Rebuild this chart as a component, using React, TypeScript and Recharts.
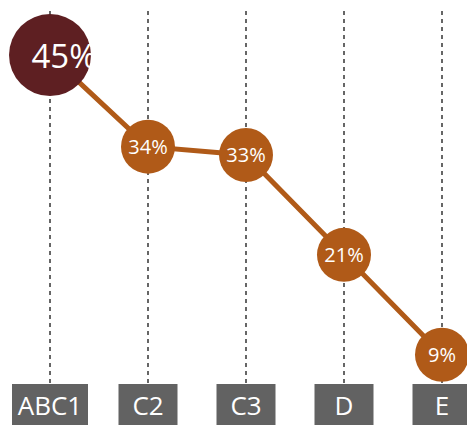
import { LineChart, Line, XAxis, YAxis, ReferenceLine } from "recharts";

const categories = ["ABC1", "C2", "C3", "D", "E"];
const shares = [45, 34, 33, 21, 9];

const data = categories.map((name, i) => ({ name, share: shares[i] }));

const FONT = "'Open Sans', sans-serif";

function Bubble(props: any) {
  const { cx, cy, index, value } = props;
  const big = index === 0;
  return (
    <g key={`dot-${index}`}>
      <circle cx={cx} cy={cy} r={big ? 41 : 27} fill={big ? "#5E1F22" : "#B05A18"} />
      <text
        x={big ? cx + 14 : cx}
        y={cy}
        textAnchor="middle"
        dominantBaseline="central"
        fill="#fff"
        fontSize={big ? 33 : 20}
        fontFamily={FONT}
      >
        {value}%
      </text>
    </g>
  );
}

function BoxTick(props: any) {
  const { x, y, payload } = props;
  const label = String(payload.value);
  const w = Math.max(59, label.length * 19);
  return (
    <g>
      <rect x={x - w / 2} y={y - 7} width={w} height={41} fill="#626262" />
      <text
        x={x}
        y={y + 14}
        textAnchor="middle"
        dominantBaseline="central"
        fill="#fff"
        fontSize={26}
        fontFamily={FONT}
      >
        {label}
      </text>
    </g>
  );
}

export default function App() {
  return (
    <div style={{ position: "absolute", left: 0, top: 0, background: "#fff" }}>
      <LineChart
        width={467}
        height={432}
        data={data}
        margin={{ top: 11, right: 0, left: 0, bottom: 0 }}
      >
        <XAxis
          dataKey="name"
          padding={{ left: 50, right: 25 }}
          axisLine={false}
          tickLine={false}
          height={49}
          tick={<BoxTick />}
          interval={0}
        />
        <YAxis hide domain={[5.6, 50.3]} />
        {categories.map((c) => (
          <ReferenceLine
            key={c}
            x={c}
            stroke="#666"
            strokeWidth={2}
            strokeDasharray="4 4"
          />
        ))}
        <Line
          dataKey="share"
          stroke="#B05A18"
          strokeWidth={5}
          dot={(p: any) => <Bubble {...p} />}
          activeDot={false}
          isAnimationActive={false}
        />
      </LineChart>
    </div>
  );
}
